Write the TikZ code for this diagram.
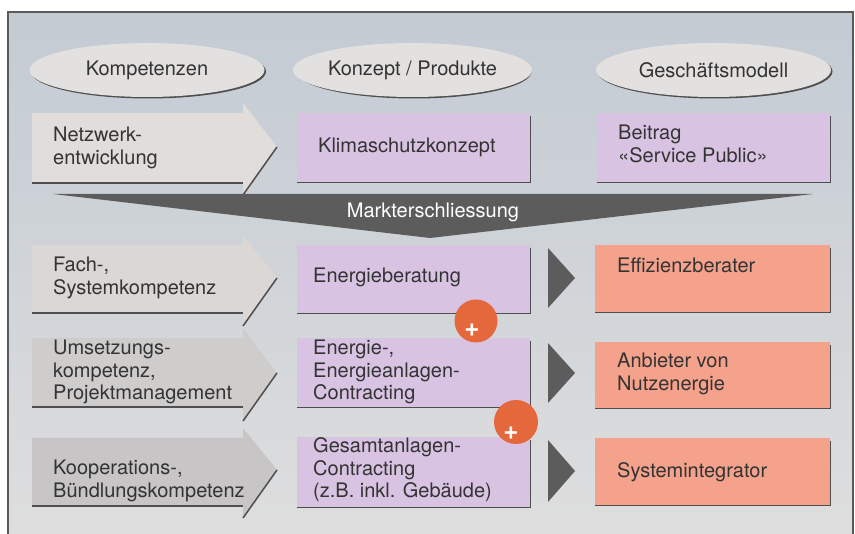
\documentclass[tikz,border=0pt]{standalone}
\usepackage{fontspec}
\setmainfont{TeX Gyre Heros}
\usetikzlibrary{shapes.geometric}
\definecolor{bgtop}{HTML}{C3CBD3}
\definecolor{bgbot}{HTML}{DEDEDE}
\definecolor{framec}{HTML}{5A5A5A}
\definecolor{ellc}{HTML}{E3E1DF}
\definecolor{shadowc}{HTML}{4E4E4E}
\definecolor{arrA}{HTML}{E0DDDA}
\definecolor{arrB}{HTML}{DAD7D4}
\definecolor{arrC}{HTML}{CFCDCC}
\definecolor{arrD}{HTML}{C7C5C5}
\definecolor{purp}{HTML}{D9C3E3}
\definecolor{orng}{HTML}{F5A28C}
\definecolor{circc}{HTML}{E5683C}
\definecolor{darkc}{HTML}{5C5C5C}
\definecolor{textc}{HTML}{333333}
\newcommand\vlines[1]{\vtop{\halign{##\hfil\cr#1\crcr}}}
\newcommand\komparrow[6]{%
  \fill[#1] (32,#2) -- (243,#2) -- (243,#4) -- (277,#5) -- (243,#6) -- (243,#3) -- (32,#3) -- cycle;
  \draw[shadowline] (32,#3) -- (243,#3);
  \draw[shadowline] (277,#5) -- (243,#6);
}
\tikzset{
  shadowline/.style={draw=shadowc, line width=1.5pt},
  boxbase/.style={draw=none, inner sep=0pt, anchor=north west},
  pbox/.style={boxbase, fill=purp},
  obox/.style={boxbase, fill=orng},
  lbl/.style={anchor=base west, inner sep=0pt, text=textc, font=\fontsize{20}{22.5}\selectfont},
  ell/.style={ellipse, fill=ellc, minimum width=235pt, minimum height=54pt, inner sep=0pt,
              text=textc, font=\fontsize{20}{22.5}\selectfont},
  ellshadow/.style={ellipse, fill=shadowc, minimum width=235pt, minimum height=54pt, inner sep=0pt},
  pluscirc/.style={circle, fill=circc, minimum size=43pt, inner sep=0pt},
  plussign/.style={inner sep=0pt, text=white, font=\bfseries\fontsize{26}{26}\selectfont},
}
\begin{document}
\begin{tikzpicture}[x=1pt,y=-1pt]
\useasboundingbox (0,0) rectangle (855,534);
\fill[white] (0,0) rectangle (855,534);
\shade[top color=bgtop, bottom color=bgbot] (8,12) rectangle (853,540);
\draw[framec, line width=1.2pt] (8,540) -- (8,12) -- (853,12) -- (853,540);

% header ellipses
\node[ellshadow] (e1s) at (148.5,71.5) {};
\node[ell] (e1) at (147,70) {Kompetenzen};
\node[ellshadow] (e2s) at (414,71.5) {};
\node[ell] (e2) at (412.5,70) {Konzept / Produkte};
\node[ellshadow] (e3s) at (715,71.5) {};
\node[ell] (e3) at (713.5,70) {Geschäftsmodell};

% competence arrows
\komparrow{arrA}{113}{183}{103}{147}{195}
\komparrow{arrB}{245}{313}{235}{278}{326}
\komparrow{arrC}{338}{407}{328}{373}{421}
\komparrow{arrD}{438}{506}{428}{470}{518}
\node[lbl] (k1) at (53,142) {\vlines{Netzwerk-\cr entwicklung}};
\node[lbl] (k2) at (53,272) {\vlines{Fach-,\cr Systemkompetenz}};
\node[lbl] (k3) at (53,355) {\vlines{Umsetzungs-\cr kompetenz,\cr Projektmanagement}};
\node[lbl] (k4) at (53,475) {\vlines{Kooperations-,\cr Bündlungskompetenz}};

% product boxes
\node[pbox, minimum width=233pt, minimum height=69pt] (p1) at (297,113) {};
\node[pbox, minimum width=233pt, minimum height=68pt] (p2) at (297,245) {};
\node[pbox, minimum width=233pt, minimum height=69pt] (p3) at (297,338) {};
\node[pbox, minimum width=233pt, minimum height=70pt] (p4) at (297,437) {};
\foreach \b in {p1,p2,p3,p4}{
  \draw[shadowline] ([yshift=-3pt]\b.north east) -- (\b.south east) -- (\b.south west);
}
\node[lbl] (p1t) at (318,153) {Klimaschutzkonzept};
\node[lbl] (p2t) at (313,283) {Energieberatung};
\node[lbl] (p3t) at (313,355) {\vlines{Energie-,\cr Energieanlagen-\cr Contracting}};
\node[lbl] (p4t) at (313,453) {\vlines{Gesamtanlagen-\cr Contracting\cr (z.B. inkl. Gebäude)}};

% business model boxes
\node[pbox, minimum width=233pt, minimum height=69pt] (g1) at (597,113) {};
\node[obox, minimum width=235pt, minimum height=67pt] (g2) at (595,245) {};
\node[obox, minimum width=235pt, minimum height=66pt] (g3) at (595,342) {};
\node[obox, minimum width=235pt, minimum height=67pt] (g4) at (595,438) {};
\foreach \b in {g1,g2,g3,g4}{
  \draw[shadowline] ([yshift=-3pt]\b.north east) -- (\b.south east) -- (\b.south west);
}
\node[lbl] (g1t) at (618,140) {\vlines{Beitrag\cr «Service Public»}};
\node[lbl] (g2t) at (617,273) {Effizienzberater};
\node[lbl] (g3t) at (617,368) {\vlines{Anbieter von\cr Nutzenergie}};
\node[lbl] (g4t) at (617,478) {Systemintegrator};

% market wedge
\fill[darkc] (53,194) -- (813,194) -- (430,238) -- cycle;
\node[lbl, anchor=base, text=white] (mk) at (433,218) {Markterschliessung};

% dark triangles
\fill[darkc] (548,248) -- (575,278) -- (548,308) -- cycle;
\fill[darkc] (548,343) -- (575,373) -- (548,403) -- cycle;
\fill[darkc] (548,440) -- (575,471) -- (548,502) -- cycle;

% plus circles
\node[pluscirc] (c1) at (476,321) {};
\node[plussign] (c1t) at (472,330) {+};
\node[pluscirc, minimum size=44pt] (c2) at (516,422) {};
\node[plussign] (c2t) at (511,433) {+};
\end{tikzpicture}
\end{document}
